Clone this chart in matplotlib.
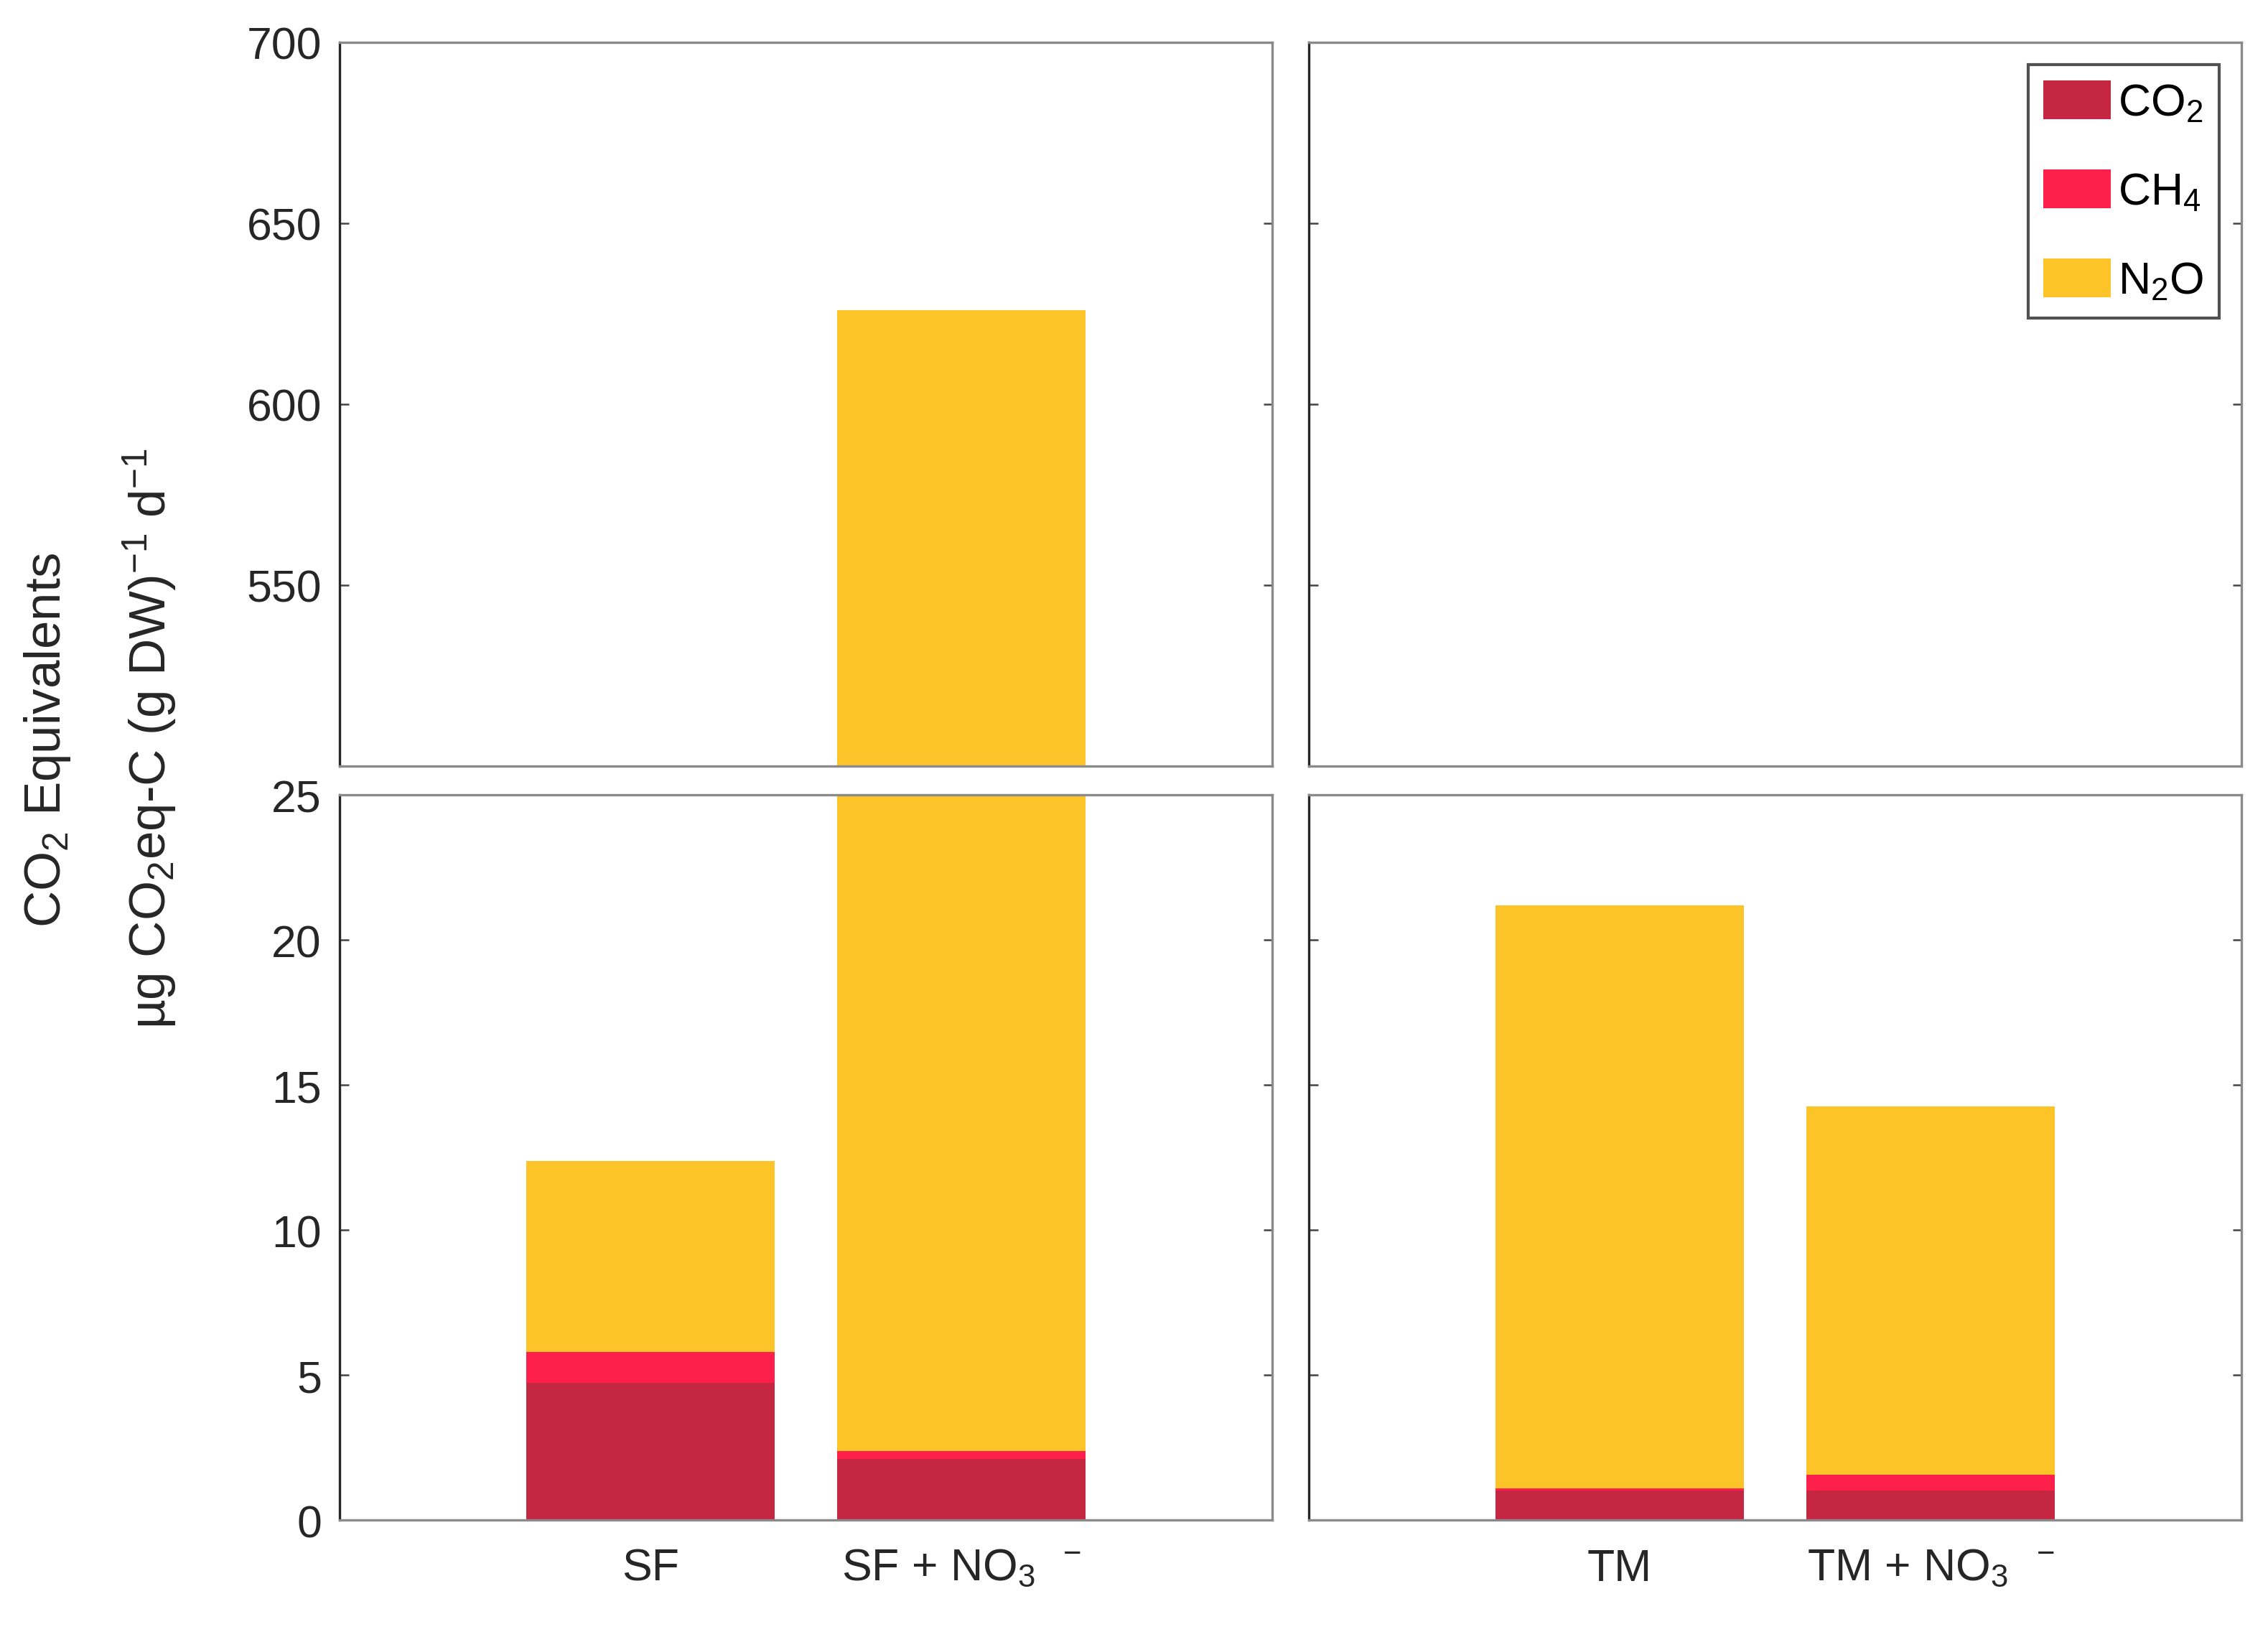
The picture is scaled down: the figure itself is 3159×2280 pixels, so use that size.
import matplotlib.pyplot as plt
import numpy as np

plt.rcParams['font.family'] = ['Liberation Sans', 'DejaVu Sans']
plt.rcParams['mathtext.default'] = 'regular'

# data
sites = [["SF", "SF + NO$_3$$^{\\ \\ -}$"], ["TM", "TM + NO$_3$$^{\\ \\ -}$"]]
co2 = [[4.72, 2.11], [1.03, 1.03]]
ch4 = [[1.08, 0.26], [0.07, 0.54]]
n2o = [[6.59, 623.7], [20.1, 12.7]]

gas_labels = ["CO$_2$", "CH$_4$", "N$_2$O"]
gas_cols = ["#C52641", "#FF1F4B", "#FDC42A"]

fig = plt.figure(figsize=(10.53, 7.603), dpi=300)

lefts = [0.1497, 0.577]
width = 0.4113
top_box = [0.5318, 0.4419]
bot_box = [0.0714, 0.4428]

x = np.array([1, 2])
for i in range(2):
    ax_top = fig.add_axes([lefts[i], top_box[0], width, top_box[1]])
    ax_bot = fig.add_axes([lefts[i], bot_box[0], width, bot_box[1]])
    c = np.array(co2[i])
    m = np.array(ch4[i])
    n = np.array(n2o[i])
    for ax in (ax_top, ax_bot):
        ax.bar(x, c, width=0.8, color=gas_cols[0], label=gas_labels[0])
        ax.bar(x, m, width=0.8, bottom=c, color=gas_cols[1], label=gas_labels[1])
        ax.bar(x, n, width=0.8, bottom=c + m, color=gas_cols[2], label=gas_labels[2])
        ax.set_xlim(0, 3)
        for s in ax.spines.values():
            s.set_color('#8a8a8a')
            s.set_linewidth(0.8)
        ax.spines['left'].set_color('#262626')
        ax.tick_params(axis='y', direction='in', length=3, width=0.6,
                       left=True, right=True, color='#444444',
                       labelsize=15, labelcolor='#262626', pad=6)
    ax_top.set_ylim(500, 700)
    ax_top.set_yticks([550, 600, 650, 700])
    ax_top.set_xticks([])
    ax_bot.set_ylim(0, 25)
    ax_bot.set_yticks([0, 5, 10, 15, 20, 25])
    ax_bot.set_xticks(x)
    ax_bot.set_xticklabels(sites[i], fontsize=15, color='#262626')
    ax_bot.tick_params(axis='x', length=0, pad=9)
    if i == 1:
        ax_top.tick_params(axis='y', labelleft=False)
        ax_bot.tick_params(axis='y', labelleft=False)
        ax_top.legend(loc='upper right', fontsize=15, frameon=True, fancybox=False,
                      edgecolor='#262626', handlelength=1.5, handleheight=0.95,
                      handletextpad=0.15, labelspacing=1.0, borderaxespad=0.5,
                      borderpad=0.35)

fig.text(0.021, 0.548, "CO$_2$ Equivalents", rotation=90, ha='center', va='center',
         fontsize=17, color='#262626')
fig.text(0.066, 0.549, "µg CO$_2$eq-C (g DW)$^{-1}$ d$^{-1}$", rotation=90,
         ha='center', va='center', fontsize=17, color='#262626')

fig.savefig("out.png", dpi=300)
